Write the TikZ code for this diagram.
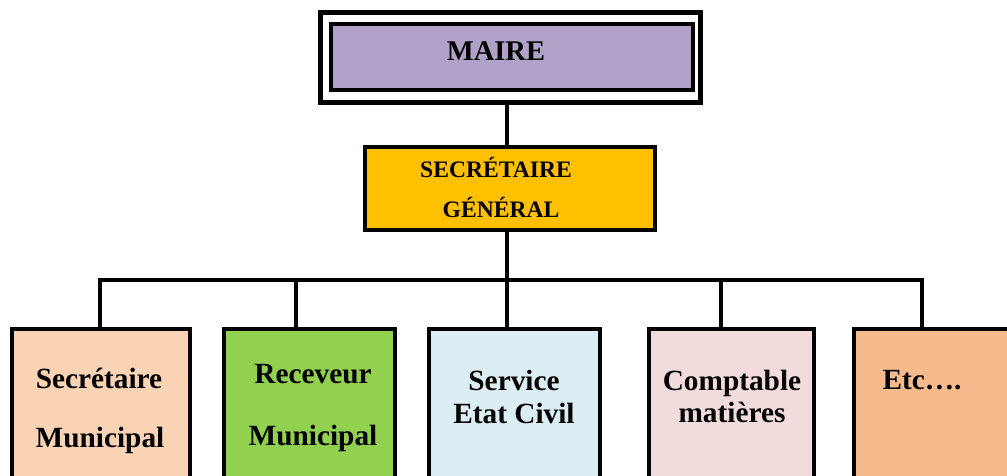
\documentclass[tikz,border=0pt]{standalone}
\usepackage{fontspec}
\setmainfont{Liberation Serif}
\definecolor{mairefill}{HTML}{B1A0C7}
\definecolor{sgfill}{HTML}{FFC000}
\definecolor{bfa}{HTML}{FAD3B5}
\definecolor{bfb}{HTML}{92D050}
\definecolor{bfc}{HTML}{DBEEF3}
\definecolor{bfd}{HTML}{F2DCDB}
\definecolor{bfe}{HTML}{F6BB8C}
\begin{document}
\begin{tikzpicture}[x=1pt,y=-1pt,
  boxst/.style={draw=black, line width=4pt, inner sep=0pt, outer sep=2pt},
  lbl/.style={font=\bfseries\fontsize{29.3}{31}\selectfont, inner sep=0pt, anchor=base},
  lblm/.style={font=\bfseries\fontsize{28.5}{30}\selectfont, inner sep=0pt, anchor=base},
  lbls/.style={font=\bfseries\fontsize{23.6}{25}\selectfont, inner sep=0pt, anchor=base},
  conn/.style={line width=3.5pt}]
\useasboundingbox (0,0) rectangle (1007,476);
\clip (0,0) rectangle (1007,476);
% MAIRE
\node[draw=black, line width=5pt, minimum width=380pt, minimum height=90pt, inner sep=0pt, outer sep=2.5pt] (maireout) at (510.5,57.5) {};
\node[boxst, fill=mairefill, minimum width=362pt, minimum height=66pt] (mairein) at (512,57) {};
\node[lblm] (mairetxt) at (496,61) {MAIRE};
% SG
\node[boxst, fill=sgfill, minimum width=290pt, minimum height=83pt] (sg) at (510,188.5) {};
\node[lbls] (sg1) at (496,178) {SECRÉTAIRE};
\node[lbls] (sg2) at (501,218) {GÉNÉRAL};
% bottom boxes
\node[boxst, fill=bfa, minimum width=178pt, minimum height=161pt] (b1) at (101,409.5) {};
\node[boxst, fill=bfb, minimum width=171pt, minimum height=161pt] (b2) at (309.5,409.5) {};
\node[boxst, fill=bfc, minimum width=171pt, minimum height=161pt] (b3) at (514.5,409.5) {};
\node[boxst, fill=bfd, minimum width=165pt, minimum height=161pt] (b4) at (731.5,409.5) {};
\node[boxst, fill=bfe, minimum width=166pt, minimum height=161pt] (b5) at (937,409.5) {};
\node[lbl] (t1a) at (99,388) {Secrétaire};
\node[lbl] (t1b) at (100,447) {Municipal};
\node[lbl] (t2a) at (313,383) {Receveur};
\node[lbl] (t2b) at (313,445) {Municipal};
\node[lbl] (t3a) at (514,390) {Service};
\node[lbl] (t3b) at (514,423) {Etat Civil};
\node[lbl] (t4a) at (732,390) {Comptable};
\node[lbl] (t4b) at (732,422) {matières};
\node[lbl] (t5a) at (922,389) {Etc….};
% connectors
\coordinate (trunk) at (507,280);
\coordinate (c1) at (100,280);
\coordinate (c2) at (296,280);
\coordinate (c3) at (507,280);
\coordinate (c4) at (721,280);
\coordinate (c5) at (922,280);
\draw[conn] (maireout.south -| trunk) -- (sg.north -| trunk);
\draw[conn] (sg.south -| trunk) -- (trunk);
\draw[conn] ([xshift=-1.75pt]c1) -- ([xshift=1.75pt]c5);
\foreach \i in {1,...,5}{
  \draw[conn] ([yshift=-1.75pt]c\i) -- (c\i |- b\i.north);
}
\end{tikzpicture}
\end{document}
